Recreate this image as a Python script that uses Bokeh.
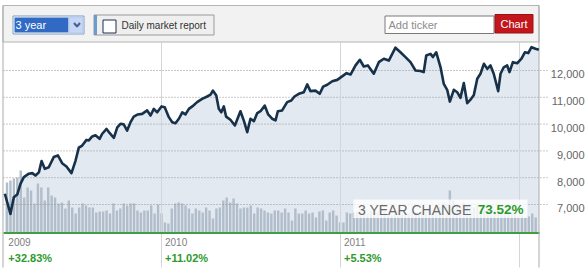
import pandas as pd
from bokeh.plotting import figure
from bokeh.models import Range1d
from bokeh.core.properties import value
from bokeh.embed import file_html
from bokeh.resources import INLINE

# ---------------- data ----------------
price_year = [
    2009.125, 2009.156, 2009.175, 2009.194, 2009.212, 2009.231, 2009.259, 2009.278, 2009.296, 2009.315,
    2009.330, 2009.348, 2009.370, 2009.398, 2009.421, 2009.445, 2009.469, 2009.497, 2009.520, 2009.538,
    2009.557, 2009.581, 2009.594, 2009.613, 2009.631, 2009.654, 2009.669, 2009.693, 2009.711, 2009.734,
    2009.753, 2009.771, 2009.789, 2009.808, 2009.827, 2009.845, 2009.868, 2009.892, 2009.920, 2009.939,
    2009.957, 2009.976, 2010.000, 2010.018, 2010.041, 2010.060, 2010.078, 2010.097, 2010.116, 2010.134,
    2010.153, 2010.172, 2010.199, 2010.227, 2010.255, 2010.274, 2010.287, 2010.306, 2010.320, 2010.334,
    2010.348, 2010.361, 2010.385, 2010.410, 2010.441, 2010.460, 2010.479, 2010.497, 2010.516, 2010.535,
    2010.553, 2010.577, 2010.596, 2010.618, 2010.637, 2010.650, 2010.674, 2010.702, 2010.725, 2010.743,
    2010.767, 2010.795, 2010.814, 2010.832, 2010.860, 2010.884, 2010.903, 2010.926, 2010.954, 2010.982,
    2011.009, 2011.034, 2011.056, 2011.084, 2011.108, 2011.130, 2011.153, 2011.186, 2011.214, 2011.242,
    2011.270, 2011.307, 2011.335, 2011.363, 2011.391, 2011.419, 2011.447, 2011.465, 2011.479, 2011.503,
    2011.516, 2011.535, 2011.559, 2011.577, 2011.596, 2011.611, 2011.633, 2011.652, 2011.670, 2011.689,
    2011.708, 2011.726, 2011.745, 2011.764, 2011.782, 2011.801, 2011.820, 2011.838, 2011.856, 2011.881,
    2011.894, 2011.912, 2011.931, 2011.944, 2011.963, 2011.987, 2012.011, 2012.030, 2012.049, 2012.067,
    2012.089, 2012.108,
]
price_close = [
    7400, 6650, 7270, 7370, 7770, 8020, 8150, 8170, 8080, 8200,
    8620, 8330, 8390, 8770, 8830, 8540, 8420, 8170, 8640, 9120,
    9200, 9410, 9390, 9540, 9580, 9450, 9640, 9820, 9660, 9490,
    9880, 10010, 9990, 9760, 10070, 10280, 10360, 10380, 10510, 10320,
    10570, 10440, 10660, 10630, 10260, 10070, 10030, 10200, 10440, 10360,
    10570, 10660, 10820, 10940, 11030, 11100, 11250, 11070, 10570, 10440,
    10660, 10280, 10160, 9950, 10480, 10130, 9700, 10200, 10110, 10410,
    10480, 10690, 10360, 10200, 10140, 10480, 10510, 10820, 10880, 11030,
    11130, 11190, 11480, 11230, 11250, 11130, 11400, 11470, 11600, 11650,
    11780, 11900, 11850, 12190, 12400, 12150, 12190, 11880, 12310, 12440,
    12370, 12850, 12680, 12500, 12310, 12000, 11980, 11940, 12560, 12620,
    12500, 12680, 12120, 11500, 11280, 10840, 11280, 11190, 10980, 11530,
    10780, 10910, 11090, 11690, 11880, 12250, 12060, 12190, 11880, 11230,
    11880, 12120, 12190, 11940, 12310, 12270, 12440, 12680, 12650, 12870,
    12810, 12770,
]
volume_first_week = "2009-02-20"
weekly_volume = [
    50, 52, 54, 55, 62, 35, 45, 42, 29, 49, 45, 32, 45, 37, 35, 29, 30, 24, 32, 25,
    19, 25, 29, 27, 25, 25, 20, 21, 21, 22, 19, 29, 22, 24, 29, 27, 29, 29, 22, 20,
    22, 22, 27, 19, 28, 19, 10, 9, 24, 29, 30, 29, 27, 24, 19, 24, 22, 20, 25, 22,
    14, 24, 25, 32, 35, 30, 34, 29, 24, 25, 25, 27, 19, 25, 24, 22, 20, 19, 22, 22,
    20, 24, 20, 12, 24, 19, 19, 22, 19, 20, 15, 21, 22, 12, 20, 22, 17, 10, 10, 20,
    19, 20, 21, 20, 23, 19, 22, 18, 20, 24, 21, 19, 17, 20, 22, 18, 21, 19, 23, 20,
    18, 22, 21, 24, 20, 23, 26, 30, 28, 42, 32, 29, 27, 30, 26, 28, 25, 27, 22, 24,
    26, 21, 23, 20, 22, 19, 21, 20, 18, 16, 17, 15, 16, 19, 15,
]
tick_values = [7000, 8000, 9000, 10000, 11000, 12000]
tick_labels = ["7,000", "8,000", "9,000", "10,000", "11,000", "12,000"]
year_marks = [2010, 2011, 2012]
year_names = ["2009", "2010", "2011"]
year_starts = [2009, 2010, 2011]
year_changes = ["+32.83%", "+11.02%", "+5.53%"]
period_label = "3 YEAR CHANGE"
period_change = "73.52%"

# ---------------- figure ----------------
W, H = 588, 275
FONT = value("Liberation Sans")

p = figure(width=W, height=H,
           x_range=Range1d(2009.10056, 2012.38547),
           y_range=Range1d(4350.7, 14611.9),
           x_axis_type=None, y_axis_type=None,
           toolbar_location=None, output_backend="svg",
           min_border=0, outline_line_color=None,
           background_fill_color="white", border_fill_color="white")
p.extra_x_ranges = {"px": Range1d(0, W)}
p.extra_y_ranges = {"py": Range1d(H, 0), "vol": Range1d(-43, 232)}
PX = dict(x_range_name="px", y_range_name="py")

# area under price
p.varea(x=price_year, y1=4350.7, y2=price_close, fill_color="#e3e9f0")

# weekly volume bars
wk = pd.date_range(volume_first_week, periods=len(weekly_volume), freq="7D")
bar_year = list(wk.year + (wk.dayofyear - 1) / 365.0)
p.vbar(x=bar_year, top=weekly_volume, bottom=0, width=0.0135,
       fill_color="#b1bdca", line_color=None, y_range_name="vol")

# bottom band
p.quad(left=3, right=538.5, top=233, bottom=275, fill_color="white", line_color=None, **PX)

# gridlines
p.segment(x0=3, x1=548, y0=tick_values, y1=tick_values, x_range_name="px",
          line_color="#959595", line_dash="1 2", line_width=1)

# year separators
p.segment(x0=year_marks, x1=year_marks, y0=42, y1=267, y_range_name="py",
          line_color="#d2d6db", line_width=1)

# green baseline
p.segment(x0=3, x1=539, y0=232.5, y1=232.5, line_color="#3f9f3f", line_width=2, **PX)

# toolbar band
p.quad(left=2.5, right=538.5, top=5, bottom=41.5, fill_color="#f2f2f2", line_color="#b4b4b4", **PX)

# frame borders
p.segment(x0=[2.5, 538.5], x1=[2.5, 538.5], y0=5, y1=267, line_color="#ababab", line_width=1, **PX)

# price line
p.line(price_year, price_close, line_color="#17314a", line_width=2.6, line_join="round")

# period change box
p.quad(left=353, right=527, top=199, bottom=217.5, fill_color="white", fill_alpha=0.8,
       line_color=None, **PX)
p.text(x=[357.5], y=[209], text=[period_label], text_font=FONT, text_font_size="14px",
       text_color="#6a6a6a", text_baseline="middle", **PX)
p.text(x=[523], y=[209], text=[period_change], text_font=FONT, text_font_size="13.5px",
       text_font_style="bold", text_color="#2b9a2b", text_align="right",
       text_baseline="middle", **PX)

# price tick labels
p.text(x=584, y=tick_values, text=tick_labels, text_font=FONT, text_font_size="11px",
       text_color="#666666", text_align="right", text_baseline="top", x_range_name="px")

# year labels
label_x = [max(price_year[0], float(y)) for y in year_starts]
p.text(x=label_x, y=241.5, text=year_names, x_offset=3.5, text_font=FONT,
       text_font_size="10px", text_color="#808080", text_baseline="middle", y_range_name="py")
p.text(x=label_x, y=257, text=year_changes, x_offset=3.5, text_font=FONT,
       text_font_size="11px", text_font_style="bold", text_color="#2e9a2e",
       text_baseline="middle", y_range_name="py")

# ---- controls in the toolbar ----
p.quad(left=12.5, right=83.5, top=15.5, bottom=33.5, fill_color="white", line_color="#7f9db9", **PX)
p.quad(left=14, right=68, top=17, bottom=32, fill_color="#316ac5", line_color=None, **PX)
p.text(x=[15], y=[24.5], text=["3 year"], text_font=FONT, text_font_size="11px",
       text_color="white", text_baseline="middle", **PX)
p.quad(left=68.5, right=82.5, top=16.5, bottom=32.5, fill_color="#c6d6f7", line_color="#b3c6ee", **PX)
p.line(x=[73.5, 76.5, 79.5], y=[22.5, 26, 22.5], line_color="#4a5f8a", line_width=2, **PX)

p.quad(left=93.5, right=213.5, top=14.5, bottom=34.5, fill_color="#efefef", line_color="#9a9a9a", **PX)
p.quad(left=93.5, right=96.5, top=14.5, bottom=34.5, fill_color="#6d9ccc", line_color=None, **PX)
p.quad(left=102.5, right=115.5, top=19.5, bottom=32.5, fill_color="white", line_color="#1d2f4d", **PX)
p.text(x=[121], y=[25], text=["Daily market report"], text_font=FONT, text_font_size="10px",
       text_color="#333333", text_baseline="middle", **PX)

p.quad(left=384.5, right=493.5, top=15.5, bottom=33, fill_color="white", line_color="#7a7a7a", **PX)
p.text(x=[388], y=[24.5], text=["Add ticker"], text_font=FONT, text_font_size="11px",
       text_color="#8c8c8c", text_baseline="middle", **PX)
p.quad(left=494.5, right=532.5, top=14, bottom=32.5, fill_color="#c3161c", line_color="#9c1015", **PX)
p.text(x=[513.5], y=[23.5], text=["Chart"], text_font=FONT, text_font_size="11px",
       text_color="white", text_align="center", text_baseline="middle", **PX)

open("out.html", "w").write(file_html(p, INLINE))
